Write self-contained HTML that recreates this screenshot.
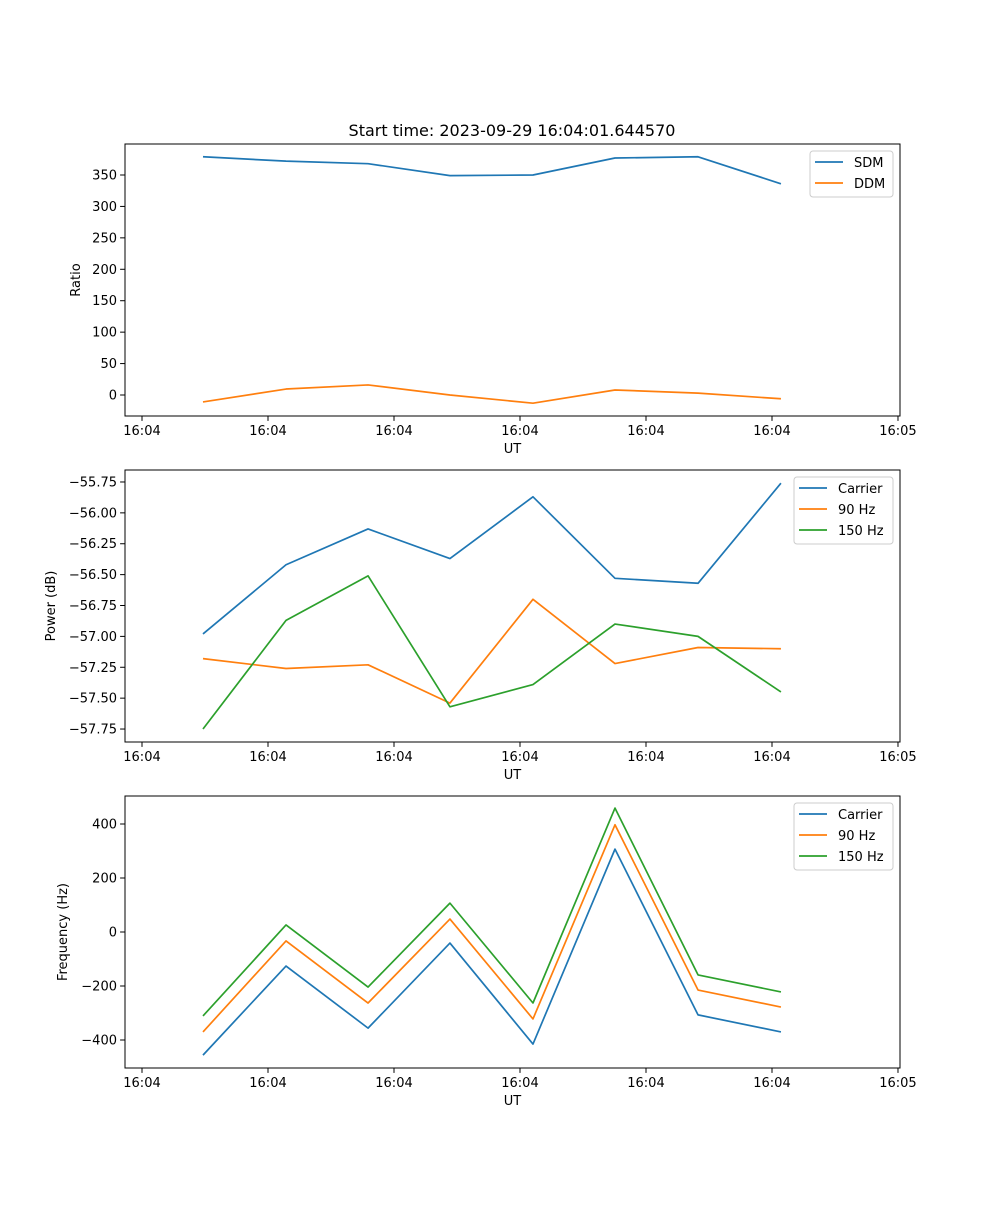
<!DOCTYPE html>
<html><head><meta charset="utf-8"><style>
body{margin:0;background:#fff;}
svg text{font-family:"DejaVu Sans","Liberation Sans",sans-serif;fill:#000;}
</style></head><body>
<svg id="fig" width="1000" height="1200" xmlns="http://www.w3.org/2000/svg">
<rect width="1000" height="1200" fill="#fff"/>
<text x="512" y="136" font-size="16" text-anchor="middle">Start time: 2023-09-29 16:04:01.644570</text>
</svg>
<script>
const xTickValues=[0,1,2,3,4,5,6];
const xTickLabels=["16:04","16:04","16:04","16:04","16:04","16:04","16:05"];
const xData=[0.484,1.143,1.794,2.444,3.103,3.754,4.413,5.071];
const sdm=[379,372,368,349,350,377,379,336];
const ddm=[-11,9.5,16,0,-13,8,3,-6];
const pCarrier=[-56.98,-56.42,-56.13,-56.37,-55.87,-56.53,-56.57,-55.76];
const p90=[-57.18,-57.26,-57.23,-57.54,-56.70,-57.22,-57.09,-57.10];
const p150=[-57.75,-56.87,-56.51,-57.57,-57.39,-56.90,-57.00,-57.45];
const fCarrier=[-456,-126,-356,-41,-415,307,-307,-370];
const f90=[-370,-33,-263,48,-322,397,-215,-278];
const f150=[-311,26,-204,107,-263,459,-159,-222];
const yTicks1=[0,50,100,150,200,250,300,350];
const yTicks2=[-55.75,-56.00,-56.25,-56.50,-56.75,-57.00,-57.25,-57.50,-57.75];
const yTicks3=[-400,-200,0,200,400];

const NS="http://www.w3.org/2000/svg";
const svg=document.getElementById('fig');
function mk(tag,attrs,parent){const e=document.createElementNS(NS,tag);for(const k in attrs)e.setAttribute(k,attrs[k]);(parent||svg).appendChild(e);return e;}
const L=125,R=900,xmin=-0.135,xmax=6.016;
function sx(v){return L+(v-xmin)/(xmax-xmin)*(R-L);}
const C=["#1f77b4","#ff7f0e","#2ca02c"];

function panel(id,top,bot,ymin,ymax,yTicks,fmt,series,names,ylabel,legend){
  const g=mk('g',{});
  
  
  const sy=v=>bot-(v-ymin)/(ymax-ymin)*(bot-top);
  series.forEach((s,i)=>{
    const p=mk('polyline',{points:s.map((v,j)=>sx(xData[j])+','+sy(v)).join(' '),fill:'none',stroke:C[i],'stroke-width':1.7,'stroke-linejoin':'round'},g);
    
    
  });
  const fr=mk('rect',{x:L,y:top,width:R-L,height:bot-top,fill:'none',stroke:'#000','stroke-width':1},g);
  
  
  xTickValues.forEach((v,i)=>{
    const x=sx(v);
    mk('line',{x1:x,x2:x,y1:bot,y2:bot+4.9,stroke:'#000'},g);
    const t=mk('text',{x:x,y:bot+19,'font-size':13,'text-anchor':'middle'},g);
    t.textContent=xTickLabels[i];
    
    
  });
  const xl=mk('text',{x:(L+R)/2,y:bot+37,'font-size':13,'text-anchor':'middle'},g);
  xl.textContent='UT';
  
  
  let maxw=0;
  yTicks.forEach(v=>{
    const y=sy(v);
    mk('line',{x1:L-4.9,x2:L,y1:y,y2:y,stroke:'#000'},g);
    const t=mk('text',{x:L-8,y:y+4.5,'font-size':13,'text-anchor':'end'},g);
    t.textContent=fmt(v);
    maxw=Math.max(maxw,t.textContent.length);
    
    
  });
  const ly=(top+bot)/2;
  const yl=mk('text',{x:legend.ylx,y:ly,'font-size':13,'text-anchor':'middle',transform:'rotate(-90 '+legend.ylx+' '+ly+')'},g);
  yl.textContent=ylabel;
  
  
  const lg=mk('g',{},g);
  
  
  mk('rect',{x:legend.x,y:top+7,width:893-legend.x,height:names.length*21+4,rx:3,fill:'#fff',stroke:'#ccc','stroke-width':1},lg);
  names.forEach((n,i)=>{
    const yy=top+18+i*21;
    mk('line',{x1:legend.x+5,x2:legend.x+33,y1:yy,y2:yy,stroke:C[i],'stroke-width':1.7},lg);
    const t=mk('text',{x:legend.x+44,y:yy+5,'font-size':13},lg);
    t.textContent=n;
    
    
  });
}
const mfmt=s=>s.replace('-','\u2212');
panel('ratio-panel',144,416,-33.4,399.3,yTicks1,v=>mfmt(String(v)),[sdm,ddm],['SDM','DDM'],'Ratio',{x:810,ylx:80});
panel('power-panel',470,742,-57.855,-55.653,yTicks2,v=>mfmt(v.toFixed(2)),[pCarrier,p90,p150],['Carrier','90 Hz','150 Hz'],'Power (dB)',{x:794,ylx:55});
panel('frequency-panel',796,1068,-503.7,503.7,yTicks3,v=>mfmt(String(v)),[fCarrier,f90,f150],['Carrier','90 Hz','150 Hz'],'Frequency (Hz)',{x:794,ylx:67});
</script>
</body></html>
